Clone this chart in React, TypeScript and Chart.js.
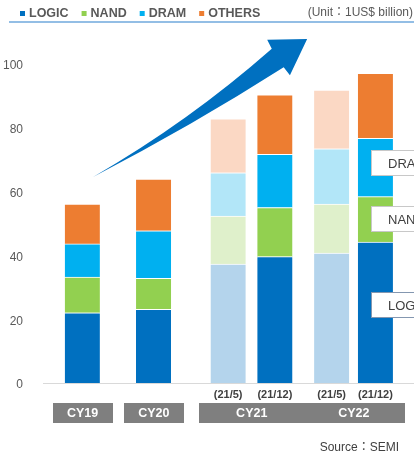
import { useEffect, useRef } from 'react';
import { Chart, registerables } from 'chart.js';
Chart.register(...registerables);

// ---- data ----
const categories = ['CY19', 'CY20', 'CY21 (21/5)', 'CY21 (21/12)', 'CY22 (21/5)', 'CY22 (21/12)'];
const subLabels = ['', '', '(21/5)', '(21/12)', '(21/5)', '(21/12)'];
const groupLabels = ['CY19', 'CY20', 'CY21', 'CY22'];
const groupIndex = [0, 1, 2, 2, 3, 3];
const earlyForecast = [false, false, true, false, true, false];
const seriesNames = ['LOGIC', 'NAND', 'DRAM', 'OTHERS'];
const logic = [22.0, 23.1, 37.3, 39.6, 40.7, 44.2];
const nand = [11.2, 9.7, 15.0, 15.4, 15.4, 14.2];
const dram = [10.4, 14.9, 13.6, 16.7, 17.3, 18.3];
const others = [12.5, 16.2, 16.9, 18.6, 18.4, 20.4];
const yTicks = [0, 20, 40, 60, 80, 100];
const calloutLabels = ['DRAM', 'NAND', 'LOGIC'];
const calloutValues = [69, 51.4, 24.5];
const unitText = '(Unit：1US$ billion)';
const sourceText = 'Source：SEMI';

// ---- layout / style ----
const barSlots = [1.06, 2.98, 4.99, 6.25, 7.78, 8.96];
const darkColors = ['#0070C0', '#92D050', '#00B0F0', '#ED7D31'];
const lightColors = ['#B4D4EC', '#DFF0CB', '#B2E6F8', '#FBD8C4'];
const arrowTail = { x: 1.35, y: 64.6 };
const arrowTip = { x: 7.12, y: 107.8 };
const FONT = '"Liberation Sans", Arial, "Noto Sans CJK JP", sans-serif';

const seriesValues = [logic, nand, dram, others];

const decorPlugin = {
  id: 'decor',
  afterDraw(chart: any) {
    const ctx: CanvasRenderingContext2D = chart.ctx;
    const xs = chart.scales.x;
    const ys = chart.scales.y;
    const ca = chart.chartArea;
    const W = chart.width;
    ctx.save();

    // legend
    ctx.font = `bold 12.5px ${FONT}`;
    ctx.textBaseline = 'middle';
    ctx.textAlign = 'left';
    let lx = 20;
    seriesNames.forEach((name, i) => {
      ctx.fillStyle = darkColors[i];
      ctx.fillRect(lx, 11, 5, 5);
      ctx.fillStyle = '#595959';
      ctx.fillText(name, lx + 9, 14);
      lx += 9 + ctx.measureText(name).width + 13;
    });
    // unit
    ctx.font = `12px ${FONT}`;
    ctx.textAlign = 'right';
    ctx.fillStyle = '#595959';
    ctx.fillText(unitText, W - 1, 13);
    // underline
    ctx.strokeStyle = '#6FA8DC';
    ctx.lineWidth = 1.5;
    ctx.beginPath();
    ctx.moveTo(9, 22);
    ctx.lineTo(W, 22);
    ctx.stroke();

    // arrow
    const T = { x: xs.getPixelForValue(arrowTail.x), y: ys.getPixelForValue(arrowTail.y) };
    const P = { x: xs.getPixelForValue(arrowTip.x), y: ys.getPixelForValue(arrowTip.y) };
    const dx = P.x - T.x, dy = P.y - T.y;
    const L = Math.hypot(dx, dy);
    const u = { x: dx / L, y: dy / L };
    const n = { x: u.y, y: -u.x };
    const pt = (a: number, c: number) => [T.x + u.x * a + n.x * c, T.y + u.y * a + n.y * c];
    const notchA = L - 35;
    ctx.fillStyle = '#0070C0';
    ctx.beginPath();
    ctx.moveTo(T.x, T.y);
    const c1 = pt(notchA / 2, -5.5), e1 = pt(notchA, 11);
    ctx.quadraticCurveTo(c1[0], c1[1], e1[0], e1[1]);
    const w1 = pt(notchA + 1, 21);
    ctx.lineTo(w1[0], w1[1]);
    ctx.lineTo(P.x, P.y);
    const w2 = pt(notchA + 1, -21);
    ctx.lineTo(w2[0], w2[1]);
    const e2 = pt(notchA, -11);
    ctx.lineTo(e2[0], e2[1]);
    const c2 = pt(notchA / 2, -10.5);
    ctx.quadraticCurveTo(c2[0], c2[1], T.x, T.y);
    ctx.closePath();
    ctx.fill();

    // callouts
    const lastX = xs.getPixelForValue(barSlots[barSlots.length - 1]);
    calloutLabels.forEach((lab, i) => {
      const y = Math.round(ys.getPixelForValue(calloutValues[i]));
      const left = Math.round(lastX - 4.5);
      ctx.fillStyle = '#FFFFFF';
      ctx.strokeStyle = lab === 'LOGIC' ? '#8497B0' : '#C8C8C8';
      ctx.lineWidth = 1;
      ctx.fillRect(left, y - 13, 80, 26);
      ctx.strokeRect(left + 0.5, y - 12.5, 80, 25);
      ctx.fillStyle = '#404040';
      ctx.font = `13px ${FONT}`;
      ctx.textAlign = 'left';
      ctx.textBaseline = 'middle';
      ctx.fillText(lab, left + 17, y + 1);
    });

    // group boxes
    groupLabels.forEach((g, gi) => {
      const idx = groupIndex.map((v, i) => (v === gi ? i : -1)).filter((i) => i >= 0);
      const x0 = xs.getPixelForValue(barSlots[idx[0]]) - 29.5;
      const x1 = xs.getPixelForValue(barSlots[idx[idx.length - 1]]) + 30;
      const top = ca.bottom + 20;
      ctx.fillStyle = '#7F7F7F';
      ctx.fillRect(Math.round(x0), top, Math.round(x1 - x0), 20);
      ctx.fillStyle = '#FFFFFF';
      ctx.font = `bold 12.5px ${FONT}`;
      ctx.textAlign = 'center';
      ctx.textBaseline = 'middle';
      ctx.fillText(g, (x0 + x1) / 2, top + 10.5);
    });

    // source
    ctx.fillStyle = '#404040';
    ctx.font = `12px ${FONT}`;
    ctx.textAlign = 'right';
    ctx.textBaseline = 'middle';
    ctx.fillText(sourceText, W - 15, chart.height - 8);

    ctx.restore();
  },
};

export default function App() {
  const ref = useRef<HTMLCanvasElement | null>(null);
  useEffect(() => {
    if (!ref.current) return;
    const datasets = seriesNames.map((name, si) => ({
      label: name,
      data: seriesValues[si].map((v, i) => ({ x: barSlots[i], y: v })),
      backgroundColor: earlyForecast.map((e) => (e ? lightColors[si] : darkColors[si])),
      borderColor: '#FFFFFF',
      borderWidth: { top: 1, bottom: 0, left: 0, right: 0 },
      borderSkipped: false,
      barThickness: 35,
    }));
    const chart = new Chart(ref.current, {
      type: 'bar',
      data: { labels: categories, datasets: datasets as any },
      options: {
        responsive: false,
        devicePixelRatio: 1,
        animation: false,
        layout: { padding: { top: 64, left: 0, right: 0, bottom: 0 } },
        plugins: { legend: { display: false }, tooltip: { enabled: false }, title: { display: false } },
        scales: {
          x: {
            type: 'linear',
            min: 0,
            max: 10,
            offset: false,
            stacked: true,
            grid: { display: true, offset: false, drawOnChartArea: false, drawTicks: false, color: 'transparent' },
            border: { display: true, color: '#D9D9D9', width: 1 },
            afterBuildTicks: (s: any) => {
              s.ticks = barSlots.map((v) => ({ value: v }));
            },
            afterFit: (s: any) => {
              s.height = 73;
            },
            ticks: {
              autoSkip: false,
              maxRotation: 0,
              padding: 5,
              color: '#404040',
              font: { family: FONT, size: 11, weight: 'bold' },
              callback: (_v: any, i: number) => subLabels[i],
            },
          },
          y: {
            min: 0,
            max: 100,
            stacked: true,
            grid: { display: false, drawTicks: false },
            border: { display: false },
            afterBuildTicks: (s: any) => {
              s.ticks = yTicks.map((v) => ({ value: v }));
            },
            afterFit: (s: any) => {
              s.width = 43;
            },
            ticks: {
              padding: 20,
              labelOffset: 2,
              color: '#595959',
              font: { family: FONT, size: 12 },
            },
          },
        },
      },
      plugins: [decorPlugin],
    });
    return () => chart.destroy();
  }, []);
  return (
    <div style={{ position: 'fixed', left: 0, top: 0, width: 414, height: 456, background: '#fff' }}>
      <canvas ref={ref} width={414} height={456} style={{ display: 'block' }} />
    </div>
  );
}
